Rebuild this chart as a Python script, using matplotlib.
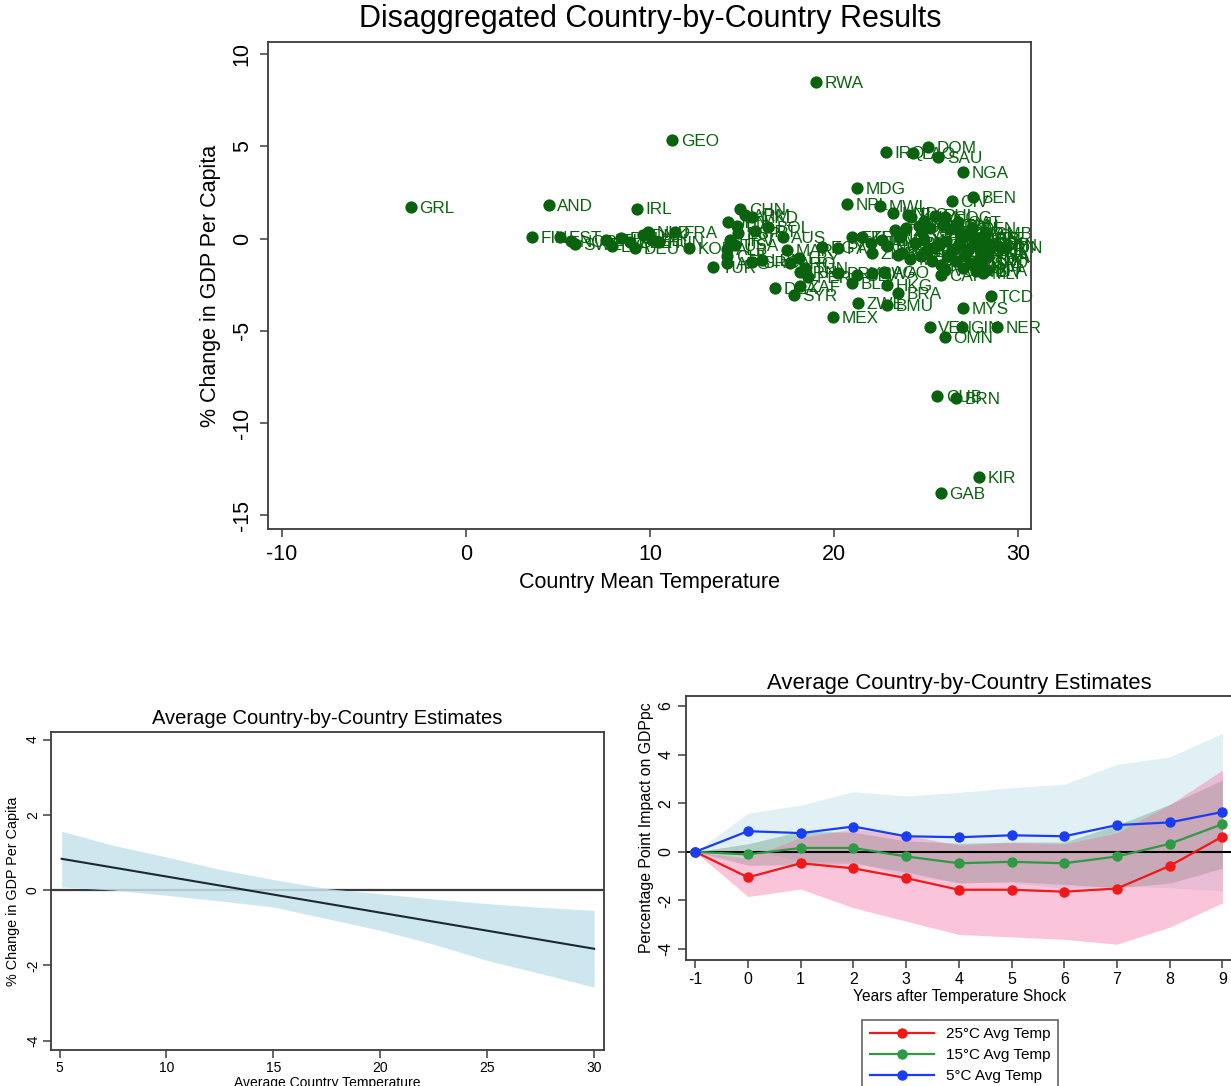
import numpy as np
import matplotlib.pyplot as plt

plt.rcParams['font.family'] = ['Liberation Sans', 'DejaVu Sans']
plt.rcParams['axes.unicode_minus'] = False

# ---- country-by-country estimates: mean temperature vs % change in GDP per capita
codes = ['GRL', 'FIN', 'AND', 'EST', 'NOR', 'SWE', 'LTU', 'LVA', 'POL', 'CZE',
         'DEU', 'IRL', 'DNK', 'NLD', 'BEL', 'HUN', 'GEO', 'FRA', 'KOR', 'TUR',
         'JPN', 'ITA', 'CHN', 'ARM', 'MKD', 'ESP', 'PRT', 'HRV', 'USA', 'ALB',
         'CHL', 'AFG', 'GRC', 'LBN', 'BOL', 'AUS', 'MAR', 'LBY', 'ARG', 'TUN',
         'IRN', 'PER', 'DZA', 'ZAF', 'SYR', 'RWA', 'EGY', 'PAK', 'MEX', 'NPL',
         'MDG', 'ETH', 'KEN', 'MWI', 'HND', 'ZMB', 'IND', 'PRY', 'SLV', 'BWA',
         'AGO', 'BLZ', 'HKG', 'BRA', 'ZWE', 'BMU', 'IRQ', 'LAO', 'DOM', 'SAU',
         'NGA', 'CIV', 'BEN', 'COG', 'QAT', 'GHA', 'SDN', 'IDN', 'THA', 'CAF',
         'MLI', 'BFA', 'TCD', 'MYS', 'VEN', 'GIN', 'NER', 'OMN', 'CUB', 'BRN',
         'KIR', 'GAB', 'KHM', 'LKA', 'PHL', 'VNM', 'COL', 'TZA', 'UGA', 'CMR',
         'COD', 'GTM', 'NIC', 'PAN', 'SEN', 'TGO', 'SLE', 'LBR', 'GMB', 'GNB',
         'MMR', 'ECU', 'PNG', 'HTI', 'JAM', 'CRI', 'GUY', 'SUR', 'TTO', 'BGD',
         'YEM', 'SOM', 'ERI', 'DJI', 'MRT', 'SGP', 'ARE', 'BDI', 'MOZ', 'PRI',
         'BHS', 'BRB', 'FJI', 'SLB', 'VUT', 'WSM', 'TON', 'LCA', 'GRD', 'VCT',
         'ATG', 'DMA', 'KNA', 'MDV', 'TLS', 'NAM']
mean_temp = [-3.0, 3.6, 4.5, 5.1, 5.7, 5.9, 7.6, 7.95, 8.4, 8.9,
             9.2, 9.3, 9.6, 9.9, 10.1, 10.5, 11.2, 11.35, 12.1, 13.4,
             14.25, 14.7, 14.9, 15.15, 15.55, 14.8, 15.7, 14.35, 14.6, 14.2,
             14.2, 14.2, 15.55, 16.1, 16.4, 17.2, 17.45, 18.1, 17.6, 18.4,
             18.15, 18.6, 16.8, 18.15, 17.8, 19.0, 19.35, 20.2, 19.95, 20.7,
             21.25, 21.0, 21.5, 22.5, 23.2, 22.07, 23.7, 20.2, 21.25, 22.07,
             22.7, 21.0, 22.9, 23.5, 21.3, 22.9, 22.8, 24.3, 25.1, 25.65,
             27.0, 26.4, 27.55, 26.0, 26.75, 26.85, 28.6, 29.3, 28.3, 25.8,
             28.1, 28.3, 28.5, 27.0, 25.2, 26.95, 28.85, 26.0, 25.6, 26.6,
             27.9, 25.8, 24.2, 24.9, 25.5, 24.6, 23.9, 23.3, 23.6, 24.8,
             25.2, 25.9, 26.3, 26.7, 27.5, 27.2, 26.9, 27.8, 28.2, 27.6,
             22.6, 22.9, 24.4, 24.9, 25.4, 25.7, 26.1, 26.5, 26.8, 25.0,
             27.3, 28.0, 28.3, 28.4, 27.9, 28.2, 28.0, 23.5, 24.1, 24.7,
             25.3, 26.2, 25.8, 26.6, 27.1, 27.4, 27.9, 28.3, 28.0, 26.0,
             27.0, 27.7, 28.3, 27.7, 24.0, 22.0]
gdp_change = [1.72, 0.07, 1.80, 0.08, -0.12, -0.30, -0.08, -0.40, 0.03, -0.18,
              -0.50, 1.63, 0.20, 0.36, -0.08, -0.18, 5.35, 0.36, -0.50, -1.55,
              0.90, 0.68, 1.60, 1.28, 1.17, 0.30, 0.41, -0.08, -0.35, -0.57,
              -0.95, -1.33, -1.27, -1.17, 0.63, 0.09, -0.62, -1.05, -1.33, -1.60,
              -1.82, -2.08, -2.68, -2.58, -3.06, 8.50, -0.45, -0.50, -4.27, 1.87,
              2.73, 0.08, 0.08, 1.77, 1.39, -0.78, -0.78, -1.87, -1.97, -1.87,
              -1.82, -2.40, -2.52, -2.95, -3.50, -3.60, 4.69, 4.64, 4.96, 4.42,
              3.60, 2.04, 2.27, 1.17, 0.90, 0.30, -0.35, -0.45, -1.00, -1.98,
              -1.87, -1.70, -3.12, -3.78, -4.80, -4.80, -4.80, -5.35, -8.53, -8.65,
              -12.93, -13.80, 1.15, 0.95, 1.25, 0.70, 0.60, 0.45, 0.10, 0.35,
              0.60, 0.75, 0.50, 0.65, 0.55, 0.20, -0.05, 0.05, 0.30, -0.20,
              -0.10, -0.40, -0.25, -0.10, -0.50, -0.35, -0.15, -0.55, -0.30, -0.70,
              -0.60, -0.40, -0.25, -0.60, 0.05, -0.30, -0.55, -0.90, -1.10, -0.95,
              -1.20, -0.95, -1.45, -1.20, -0.90, -1.35, -1.10, -0.80, -1.25, -1.70,
              -1.60, -1.50, -0.95, -1.75, 1.30, -0.25]

# ---- average estimate by country temperature (linear interaction + CI)
fit_temp = [5.1, 30.0]
fit_change = [0.83, -1.56]
ci_temp = [5.1, 7.5, 10, 12.5, 15, 17.5, 20, 22.5, 25, 27.5, 30]
ci_hi = [1.56, 1.19, 0.88, 0.55, 0.28, 0.04, -0.10, -0.24, -0.36, -0.46, -0.54]
ci_lo = [0.08, 0.00, -0.14, -0.29, -0.45, -0.76, -1.07, -1.44, -1.87, -2.22, -2.58]

# ---- impulse responses by average temperature
years = [-1, 0, 1, 2, 3, 4, 5, 6, 7, 8, 9]
irf_25 = [0, -1.05, -0.47, -0.68, -1.08, -1.56, -1.56, -1.64, -1.51, -0.58, 0.63]
irf_25_hi = [0, -0.26, 0.59, 0.94, 0.69, 0.28, 0.38, 0.32, 0.78, 1.94, 3.36]
irf_25_lo = [0, -1.84, -1.53, -2.30, -2.85, -3.40, -3.50, -3.60, -3.80, -3.10, -2.10]
irf_15 = [0, -0.11, 0.16, 0.16, -0.19, -0.47, -0.41, -0.47, -0.19, 0.33, 1.14]
irf_15_hi = [0, 0.33, 0.85, 0.80, 0.45, 0.35, 0.40, 0.40, 1.10, 1.95, 2.95]
irf_15_lo = [0, -0.55, -0.53, -0.48, -0.83, -1.29, -1.22, -1.34, -1.48, -1.29, -0.67]
irf_5 = [0, 0.85, 0.77, 1.04, 0.64, 0.60, 0.68, 0.64, 1.10, 1.21, 1.64]
irf_5_hi = [0, 1.59, 1.92, 2.47, 2.30, 2.44, 2.64, 2.78, 3.60, 3.90, 4.88]
irf_5_lo = [0, 0.11, -0.38, -0.39, -1.02, -1.24, -1.28, -1.50, -1.40, -1.48, -1.60]

W, H = 1231, 1086
fig = plt.figure(figsize=(W / 100, H / 100), dpi=100)
fig.patch.set_facecolor('white')


def box_axes(left, top, right, bottom):
    # axes placed by pixel edges
    return fig.add_axes([left / W, 1 - bottom / H, (right - left) / W, (bottom - top) / H])


def stata_style(ax, size, pad=4):
    for sp in ax.spines.values():
        sp.set_color('#3c3c3c')
        sp.set_linewidth(1.3)
    ax.tick_params(direction='out', length=6, width=1.1, color='#3c3c3c',
                   labelsize=size, pad=pad)
    ax.tick_params(axis='y', labelrotation=90)
    plt.setp(ax.get_yticklabels(), va='center')


green = '#0a620f'

# top: scatter with country labels
ax1 = box_axes(268, 42, 1031, 529)
ax1.scatter(mean_temp, gdp_change, s=78, color=green, linewidths=0, zorder=3)
for c, t, g in zip(codes, mean_temp, gdp_change):
    ax1.annotate(c, (t, g), xytext=(6.2, -1), textcoords='offset points',
                 ha='left', va='center', fontsize=12.3, color=green, zorder=2)
ax1.set_xlim(-10.76, 30.7)
ax1.set_ylim(-15.75, 10.66)
ax1.set_xticks([-10, 0, 10, 20, 30])
ax1.set_yticks([-15, -10, -5, 0, 5, 10])
stata_style(ax1, 15.5, pad=5)
ax1.set_xlabel('Country Mean Temperature', fontsize=15.5, labelpad=5)
ax1.set_ylabel('% Change in GDP Per Capita', fontsize=15.5, labelpad=8)
fig.text(650 / W, 1 - 19 / H, 'Disaggregated Country-by-Country Results',
         ha='center', va='center', fontsize=22)

# bottom left: linear effect of temperature with confidence band
ax2 = box_axes(51, 732, 604, 1050)
ax2.axhline(0, color='#3a3a3a', lw=1.6, zorder=1)
ax2.fill_between(ci_temp, ci_lo, ci_hi, color='#c6e3ec', alpha=0.85, lw=0, zorder=2)
ax2.plot(fit_temp, fit_change, color='#1c2733', lw=1.5, zorder=3)
ax2.set_xlim(4.6, 30.46)
ax2.set_ylim(-4.25, 4.2)
ax2.set_xticks([5, 10, 15, 20, 25, 30])
ax2.set_yticks([-4, -2, 0, 2, 4])
stata_style(ax2, 10, pad=2)
ax2.set_title('Average Country-by-Country Estimates', fontsize=14.5, pad=6)
ax2.set_xlabel('Average Country Temperature', fontsize=10, labelpad=1)
ax2.set_ylabel('% Change in GDP Per Capita', fontsize=10.4, labelpad=4)

# bottom right: responses over time for three average temperatures
ax3 = box_axes(686, 696, 1233, 960)
ax3.fill_between(years, irf_5_lo, irf_5_hi, color='#a9d6e5', alpha=0.35, lw=0)
ax3.fill_between(years, irf_15_lo, irf_15_hi, color='#4f8f70', alpha=0.35, lw=0)
ax3.fill_between(years, irf_25_lo, irf_25_hi, color='#f46fa3', alpha=0.4, lw=0)
ax3.axhline(0, color='black', lw=1.5)
series = [(irf_25, '#f01818', '25°C Avg Temp'),
          (irf_15, '#2f9a45', '15°C Avg Temp'),
          (irf_5, '#1b3cf5', '5°C Avg Temp')]
for vals, col, lab in series:
    ax3.plot(years, vals, color=col, lw=1.6, marker='o', ms=6.5, label=lab)
ax3.set_xlim(-1.175, 9.2)
ax3.set_ylim(-4.45, 6.41)
ax3.set_xticks(years)
ax3.set_yticks([-4, -2, 0, 2, 4, 6])
stata_style(ax3, 11.5, pad=3)
ax3.set_title('Average Country-by-Country Estimates', fontsize=15.9, pad=5)
ax3.set_xlabel('Years after Temperature Shock', fontsize=11.2, labelpad=1)
ax3.set_ylabel('Percentage Point Impact on GDPpc', fontsize=11.4, labelpad=3)
leg = ax3.legend(loc='upper center', bbox_to_anchor=(960 / W, 1 - 1012 / H),
                 bbox_transform=fig.transFigure, fontsize=11, frameon=True,
                 fancybox=False, handlelength=4.2, borderpad=0.5,
                 labelspacing=0.45, handletextpad=0.8)
leg.get_frame().set_edgecolor('#3c3c3c')
leg.get_frame().set_linewidth(1.2)

fig.savefig('out.png', dpi=100)
